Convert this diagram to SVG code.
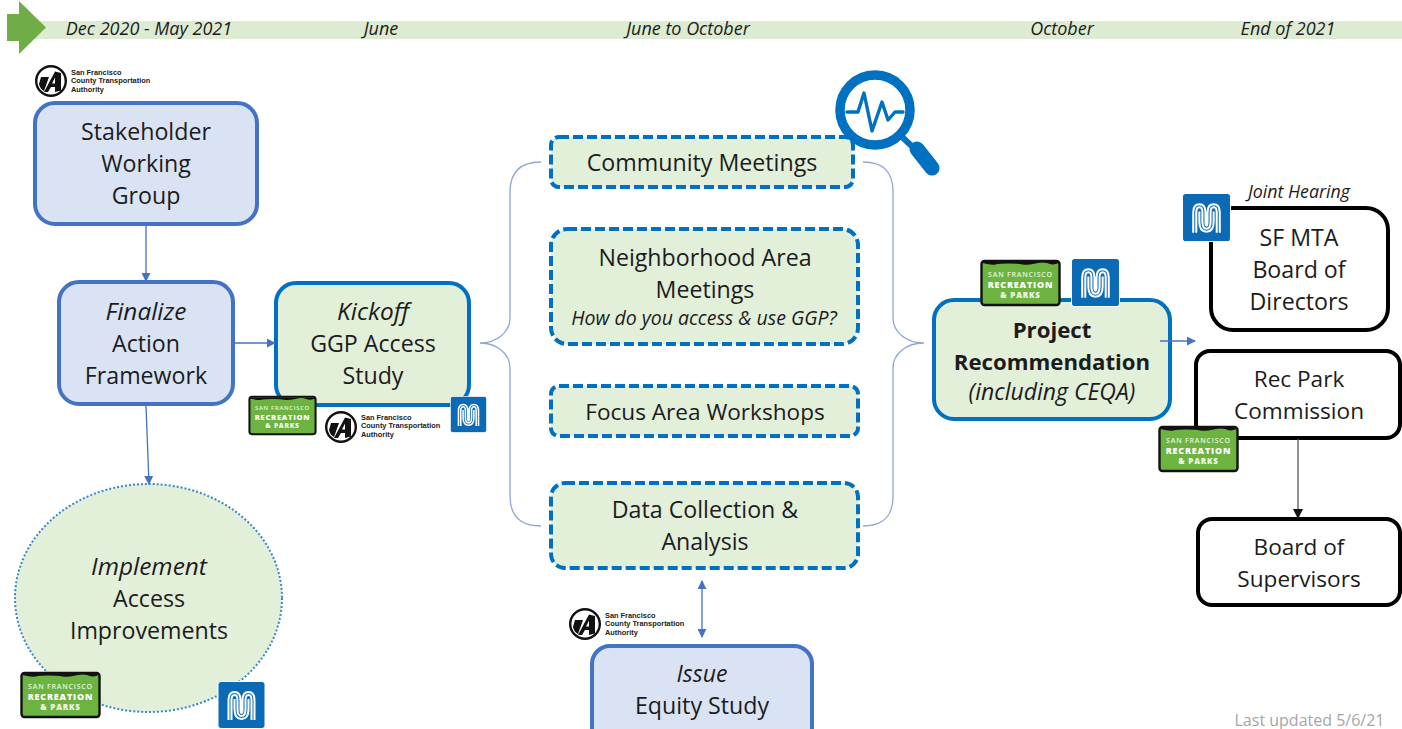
<svg xmlns="http://www.w3.org/2000/svg" xmlns:xlink="http://www.w3.org/1999/xlink" width="1402" height="729" viewBox="0 0 1402 729">
<style>
text{font-family:"Open Sans","Noto Sans","DejaVu Sans",sans-serif;fill:#1c1c1c}
.t{font-size:23.2px;text-anchor:middle}
.n{font-size:22.600px}
.i{font-style:italic;font-size:24.400px}
.ii{font-style:italic;font-size:23px}
.b{font-weight:700;font-size:22.200px}
.d{font-size:18px;font-style:italic;text-anchor:middle}
.blue{fill:#dae3f3;stroke:#4472c4;stroke-width:4}
.teal{fill:#e2efd9;stroke:#0070c0;stroke-width:4}
.dash{fill:#e2efd9;stroke:#0070c0;stroke-width:4;stroke-dasharray:10 4}
.blk{fill:#fff;stroke:#000;stroke-width:4}
.c{fill:none;stroke:#4472c4;stroke-width:1.3}
.br{fill:none;stroke:#8ea6d8;stroke-width:1.3}
.ta{font-size:7.400px;font-weight:700;font-family:"Liberation Sans",sans-serif;fill:#222}
</style>
<defs>
<marker id="a" viewBox="0 0 10 10" refX="9" refY="5" markerWidth="9" markerHeight="9" markerUnits="userSpaceOnUse" orient="auto-start-reverse"><path d="M0 0L10 5L0 10z" fill="#4472c4"/></marker>
<marker id="k" viewBox="0 0 10 10" refX="9" refY="5" markerWidth="10" markerHeight="10" markerUnits="userSpaceOnUse" orient="auto"><path d="M0 0L10 5L0 10z" fill="#111"/></marker>
<symbol id="rec" viewBox="0 0 80 46" overflow="visible">
<rect x="1" y="1" width="78" height="44" rx="3" fill="#6cb33f" stroke="#111" stroke-width="2.400"/>
<path d="M2 2H78V3Q73 5.500 68 3.500T55 3.500T42 4.500T28 3.500T15 4.500T2 3z" fill="#111"/>
<text x="40" y="17" text-anchor="middle" style="font:600 7px 'Open Sans',sans-serif;fill:#e8f3dc;letter-spacing:.8px">SAN FRANCISCO</text>
<text x="40" y="28" text-anchor="middle" style="font:800 9px 'Open Sans',sans-serif;fill:#fff;letter-spacing:.8px">RECREATION</text>
<text x="40" y="38" text-anchor="middle" style="font:800 8px 'Open Sans',sans-serif;fill:#f2f8ea;letter-spacing:.8px">&amp; PARKS</text>
</symbol>
<symbol id="muni" viewBox="0 0 48 48">
<rect x=".5" y=".5" width="47" height="47" rx="3" fill="#0a6ab6" stroke="#fff"/>
<g fill="none" stroke="#fff" stroke-width="2">
<path d="M11 39V19Q11 11 17 11T23 19V29Q23 32 24 32T25 29V19Q25 11 31 11T37 19V39"/>
<path d="M14 39V19Q14 14 17 14T20 19V28Q20 35 24 35T28 28V19Q28 14 31 14T34 19V39"/>
<path d="M17 18V28Q17 38 24 38T31 28V18"/>
</g>
</symbol>
<symbol id="talogo" viewBox="0 0 32 32">
<circle cx="16" cy="16" r="14.800" fill="#fff" stroke="#111" stroke-width="2.400"/>
<path d="M6 12H14L9 26Q5 24 4 19zM20 6.500L26 8V25.500L20 27V22H16L13 27L9 27z" fill="#111"/>
<path d="M20 12.500V18.500H17z" fill="#fff"/>
</symbol>
</defs>

<g id="timeline">
<rect x="30" y="21" width="1372" height="18" fill="#dcebd2"/>
<path d="M7 14H19V1L46 27.500L19 54V41H7z" fill="#70ad47"/>
<text class="d" x="149" y="35">Dec 2020 - May 2021</text>
<text class="d" x="381" y="35">June</text>
<text class="d" x="688" y="35">June to October</text>
<text class="d" x="1062" y="35">October</text>
<text class="d" x="1288" y="35">End of 2021</text>
</g>

<g id="stakeholder"><rect class="blue" x="35" y="103" width="222" height="121" rx="20"/>
<text class="t" x="146" y="140">Stakeholder</text><text class="t" x="146" y="172">Working</text><text class="t" x="146" y="204">Group</text></g>
<use href="#talogo" x="35" y="65" width="32" height="32"/>
<g id="ta1"><text class="ta" x="71" y="75">San Francisco</text><text class="ta" x="71" y="83">County Transportation</text><text class="ta" x="71" y="91.500">Authority</text></g>

<g id="finalize"><rect class="blue" x="59" y="282" width="174" height="122" rx="20"/>
<text class="t i" x="146" y="320">Finalize</text><text class="t" x="146" y="352">Action</text><text class="t" x="146" y="384">Framework</text></g>

<g id="kickoff"><rect class="teal" x="276" y="283" width="193" height="122" rx="20"/>
<text class="t i" x="373" y="320">Kickoff</text><text class="t" x="373" y="352">GGP Access</text><text class="t" x="373" y="384">Study</text>
<use href="#rec" x="248" y="396" width="69" height="39"/>
<use href="#talogo" x="325" y="411" width="32" height="32"/>
<text class="ta" x="361" y="420">San Francisco</text><text class="ta" x="361" y="428">County Transportation</text><text class="ta" x="361" y="437">Authority</text>
<use href="#muni" x="450" y="396" width="37" height="37"/></g>

<g id="implement"><ellipse cx="148.500" cy="598" rx="133.500" ry="114" fill="#e2efd9" stroke="#3a87c8" stroke-width="2" stroke-dasharray="2 2"/>
<text class="t i" x="149" y="575">Implement</text><text class="t" x="149" y="607">Access</text><text class="t" x="149" y="639">Improvements</text>
<use href="#rec" x="20" y="672" width="81" height="46"/>
<use href="#muni" x="217" y="681" width="49" height="48"/></g>

<g id="community"><rect class="dash" x="551" y="137" width="302" height="50" rx="8"/>
<text class="t" x="702" y="171">Community Meetings</text></g>
<g id="magnifier" fill="none" stroke="#0070c0">
<circle cx="875" cy="110" r="35" stroke-width="9.500" fill="#fff"/>
<path d="M901 136L918 152" stroke-width="6"/>
<path d="M917 149L932 168" stroke-width="15" stroke-linecap="round"/>
<path d="M847 112H858L864 93L872 131L882 102L888 120L895 112L903 112" stroke-width="3.400" stroke-linejoin="round" stroke-linecap="round"/>
</g>
<g id="neighborhood"><rect class="dash" x="551" y="229" width="307" height="115" rx="16"/>
<text class="t" x="705" y="266">Neighborhood Area</text><text class="t" x="705" y="298">Meetings</text>
<text x="704" y="325" text-anchor="middle" style="font-size:19.500px;font-style:italic">How do you access &amp; use GGP?</text></g>
<g id="focus"><rect class="dash" x="551" y="386" width="307" height="50" rx="8"/>
<text class="t n" x="705" y="420">Focus Area Workshops</text></g>
<g id="data"><rect class="dash" x="551" y="483" width="307" height="85" rx="14"/>
<text class="t" x="705" y="518">Data Collection &amp;</text><text class="t" x="705" y="550">Analysis</text></g>

<g id="equity"><rect class="blue" x="592" y="646" width="220" height="100" rx="18"/>
<text class="t ii" x="702" y="682">Issue</text><text class="t" x="702" y="714">Equity Study</text>
<use href="#talogo" x="569" y="608" width="32" height="32"/>
<text class="ta" x="605" y="618">San Francisco</text><text class="ta" x="605" y="626">County Transportation</text><text class="ta" x="605" y="635">Authority</text></g>

<g id="project"><rect class="teal" x="934" y="300" width="236" height="119" rx="20"/>
<text class="t b" x="1052" y="338">Project</text><text class="t b" x="1052" y="370">Recommendation</text><text class="t ii" x="1052" y="400">(including CEQA)</text>
<use href="#rec" x="980" y="260" width="81" height="46"/>
<use href="#muni" x="1071" y="258" width="49" height="49"/></g>

<text x="1299" y="198" text-anchor="middle" style="font-size:17.800px;font-style:italic">Joint Hearing</text>
<g id="sfmta"><rect class="blk" x="1211" y="208" width="177" height="122" rx="22"/>
<text class="t" x="1299" y="246">SF MTA</text><text class="t" x="1299" y="278">Board of</text><text class="t" x="1299" y="310">Directors</text>
<use href="#muni" x="1182" y="193" width="49" height="49"/></g>
<g id="recpark"><rect class="blk" x="1196" y="351" width="204" height="87" rx="14"/>
<text class="t n" x="1299" y="387">Rec Park</text><text class="t n" x="1299" y="419">Commission</text>
<use href="#rec" x="1158" y="426" width="81" height="46"/></g>
<g id="supervisors"><rect class="blk" x="1198" y="519" width="202" height="86" rx="14"/>
<text class="t n" x="1299" y="555">Board of</text><text class="t n" x="1299" y="587">Supervisors</text></g>

<g id="connectors">
<path class="c" marker-end="url(#a)" d="M146 226V281"/>
<path class="c" marker-end="url(#a)" d="M235 343H275"/>
<path class="c" marker-end="url(#a)" d="M146 406L149 484"/>
<path class="c" marker-start="url(#a)" marker-end="url(#a)" d="M702 581V637"/>
<path class="c" marker-end="url(#a)" d="M1160 341H1195"/>
<path d="M1298 439V518" fill="none" stroke="#555" stroke-width="1.300" marker-end="url(#k)"/>
<path class="br" d="M541 162C520 162 510 172 510 192V318C510 332 497 343 480 343C497 343 510 354 510 368V496C510 516 520 526 541 526"/>
<path class="br" d="M863 162C884 162 893 172 893 192V318C893 332 906 343 924 343C906 343 893 354 893 368V496C893 516 884 526 863 526"/>
</g>

<text x="1309.500" y="726" text-anchor="middle" style="font-size:16px;fill:#a6a6a6">Last updated 5/6/21</text>
</svg>
